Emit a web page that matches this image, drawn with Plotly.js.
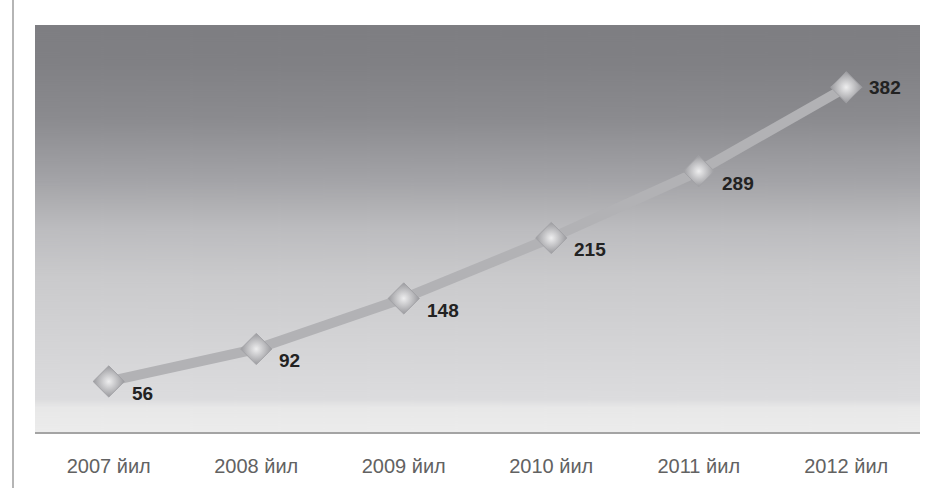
<!DOCTYPE html>
<html>
<head>
<meta charset="utf-8">
<script src="https://cdn.plot.ly/plotly-3.0.1.min.js"></script>
<style>html,body{margin:0;padding:0;background:#fff;}#chart{width:929px;height:488px;}</style>
</head>
<body>
<div id="chart"></div>
<script>
const categories = ["2007 йил", "2008 йил", "2009 йил", "2010 йил", "2011 йил", "2012 йил"];
const values = [56, 92, 148, 215, 289, 382];
const labels = ["56", "92", "148", "215", "289", "382"];

function gradientURL() {
  const c = document.createElement('canvas');
  c.width = 20; c.height = 407;
  const g = c.getContext('2d');
  const grd = g.createLinearGradient(0, 0, 0, 407);
  grd.addColorStop(0.00, '#7e7e82');
  grd.addColorStop(0.09, '#808084');
  grd.addColorStop(0.23, '#8b8b8f');
  grd.addColorStop(0.38, '#a3a3a7');
  grd.addColorStop(0.50, '#bcbcbf');
  grd.addColorStop(0.62, '#cacacc');
  grd.addColorStop(0.80, '#d5d5d7');
  grd.addColorStop(0.92, '#dcdcde');
  grd.addColorStop(0.94, '#e8e8e8');
  grd.addColorStop(1.00, '#ececec');
  g.fillStyle = grd;
  g.fillRect(0, 0, 20, 407);
  return c.toDataURL('image/png');
}

const trace = {
  type: 'scatter',
  mode: 'lines+markers',
  x: categories,
  y: values,
  line: {color: '#b2b2b5', width: 10},
  marker: {
    symbol: 'diamond',
    size: 24,
    color: '#9a9a9e',
    gradient: {type: 'radial', color: '#eeeeef'},
    line: {color: '#a2a2a6', width: 1}
  },
  hoverinfo: 'skip'
};

const annotations = categories.map((c, i) => ({
  x: c, y: values[i], xref: 'x', yref: 'y',
  text: labels[i], showarrow: false,
  xanchor: 'left', yanchor: 'middle',
  xshift: 21, yshift: i === categories.length - 1 ? 0 : -12,
  font: {family: 'Liberation Sans, Arial, sans-serif', size: 19, color: '#222222', weight: 'bold'}
}));

const layout = {
  width: 929, height: 488,
  margin: {l: 35, r: 9, t: 25, b: 56, pad: 0},
  paper_bgcolor: '#ffffff',
  plot_bgcolor: 'rgba(0,0,0,0)',
  showlegend: false,
  xaxis: {
    type: 'category', range: [-0.5, 5.5],
    showgrid: false, zeroline: false,
    showline: true, linecolor: '#a4a4a4', linewidth: 2,
    ticks: 'outside', ticklen: 15, tickcolor: 'rgba(0,0,0,0)',
    tickfont: {family: 'Liberation Sans, Arial, sans-serif', size: 20, color: '#626262'},
    fixedrange: true
  },
  yaxis: {
    range: [0, 451], visible: false, showgrid: false, zeroline: false, fixedrange: true
  },
  images: [{
    source: gradientURL(), xref: 'paper', yref: 'paper',
    x: 0, y: 1, sizex: 1, sizey: 1, sizing: 'stretch',
    xanchor: 'left', yanchor: 'top', layer: 'below'
  }],
  shapes: [{
    type: 'line', xref: 'paper', yref: 'paper',
    x0: -22/885, x1: -22/885, y0: -56/407, y1: 1 + 25/407,
    line: {color: '#9c9c9c', width: 1.5}
  }],
  annotations: annotations
};

Plotly.newPlot('chart', [trace], layout, {displayModeBar: false, staticPlot: true});
</script>
</body>
</html>
